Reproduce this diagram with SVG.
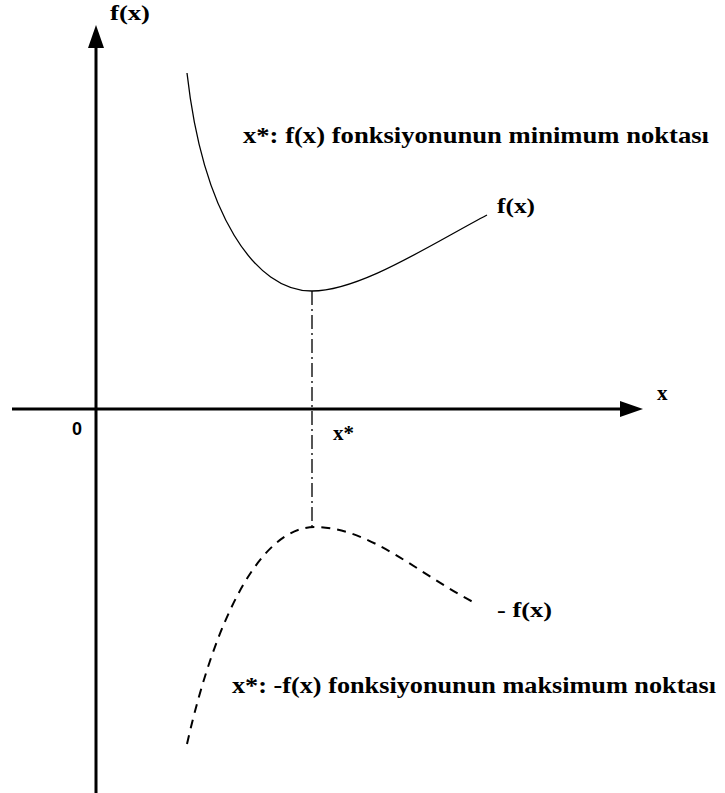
<svg xmlns="http://www.w3.org/2000/svg" width="725" height="793" viewBox="0 0 725 793">
<style>
.lbl{font-family:'Liberation Serif','Times New Roman',serif;font-weight:700;fill:#000}
.axis{stroke:#000;stroke-width:3;fill:none}
</style>
<rect width="725" height="793" fill="#fff"/>
<g id="connectors">
<line class="axis" x1="96" y1="793" x2="96" y2="48"/>
<path d="M88,48 L96,25 L104,48 Z" fill="#000"/>
<line class="axis" x1="12" y1="409" x2="620" y2="409"/>
<path d="M620,401 L643,409 L620,417 Z" fill="#000"/>
<line x1="312" y1="291" x2="312" y2="528" stroke="#555" stroke-width="2" stroke-dasharray="14,4,2,4"/>
</g>
<g id="curve-f">
<path d="M187,73 C203,215 255,291 312,291 C360,291 430,245 487,215" fill="none" stroke="#000" stroke-width="1.3"/>
</g>
<g id="curve-negf">
<path d="M187,744 C215,620 260,527 315,527 C370,527 420,575 475,603" fill="none" stroke="#000" stroke-width="2" stroke-dasharray="9,7"/>
</g>
<g id="labels">
<text class="lbl" x="110" y="20" font-size="22" textLength="40" lengthAdjust="spacingAndGlyphs">f(x)</text>
<text class="lbl" x="657" y="400" font-size="21">x</text>
<text x="72" y="435" font-family="'Liberation Sans',Arial,sans-serif" font-weight="700" font-size="18">0</text>
<text class="lbl" x="333" y="440" font-size="21">x*</text>
<text class="lbl" x="243" y="143" font-size="24" textLength="466" lengthAdjust="spacingAndGlyphs">x*: f(x) fonksiyonunun minimum noktası</text>
<text class="lbl" x="497" y="213" font-size="22" textLength="38" lengthAdjust="spacingAndGlyphs">f(x)</text>
<text class="lbl" x="497" y="617" font-size="22" textLength="55" lengthAdjust="spacingAndGlyphs">- f(x)</text>
<text class="lbl" x="232" y="693" font-size="24" textLength="484" lengthAdjust="spacingAndGlyphs">x*: -f(x) fonksiyonunun maksimum noktası</text>
</g>
</svg>
